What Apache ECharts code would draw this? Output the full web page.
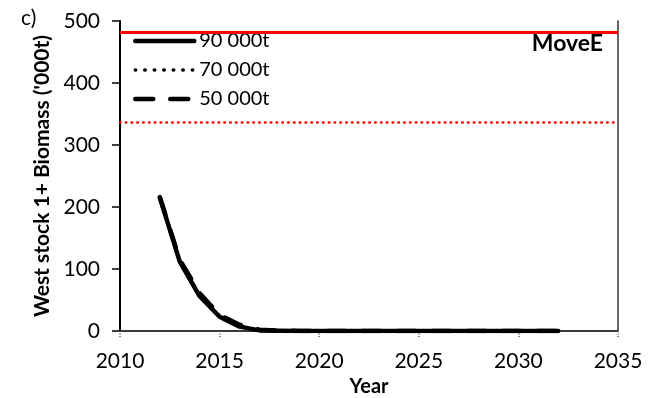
<!DOCTYPE html>
<html>
<head>
<meta charset="utf-8">
<script src="https://cdn.jsdelivr.net/npm/echarts@6/dist/echarts.min.js"></script>
<style>
html,body{margin:0;padding:0;background:#fff;}
#c{width:662px;height:398px;}
</style>
</head>
<body>
<div id="c"></div>
<script>
const years = [2012,2013,2014,2015,2016,2017,2018,2019,2020,2021,2022,2023,2024,2025,2026,2027,2028,2029,2030,2031,2032];
const catch90 = [215,112,56,23,7,1,0.3,0.1,0,0,0,0,0,0,0,0,0,0,0,0,0];
const catch70 = [215,113,58,24,8,1.5,0.4,0.1,0,0,0,0,0,0,0,0,0,0,0,0,0];
const catch50 = [216,115,61,26,10,2,0.6,0.2,0.1,0,0,0,0,0,0,0,0,0,0,0,0];
const seriesNames = ['90 000t','70 000t','50 000t'];
const refSolid = 482;
const refDotted = 337;
const xTicks = [2010,2015,2020,2025,2030,2035];
const yTicks = [0,100,200,300,400,500];
const panelLabel = 'c)';
const scenarioLabel = 'MoveE';
const yTitle = "West stock 1+ Biomass ('000t)";
const xTitle = 'Year';

const FONT = 'Lato';
const pair = (v) => years.map((y, i) => [y, v[i]]);

const styles = [
  {color: '#000', width: 4.5, type: 'solid', cap: 'round', join: 'round'},
  {color: '#000', width: 3.5, type: [0.5, 9], cap: 'round', join: 'round'},
  {color: '#000', width: 4.5, type: [18, 17], cap: 'round', join: 'round'}
];

const chart = echarts.init(document.getElementById('c'), null, {renderer: 'canvas'});
chart.setOption({
  animation: false,
  backgroundColor: '#fff',
  textStyle: {fontFamily: FONT},
  grid: {left: 120, right: 44, top: 21, bottom: 67, containLabel: false, outerBoundsMode: 'none'},
  legend: {
    data: seriesNames.map((n, i) => ({name: n, lineStyle: styles[i]})),
    orient: 'vertical',
    left: 128,
    top: 31,
    itemWidth: 59,
    itemHeight: 19,
    itemGap: 9,
    padding: [0, 5],
    itemStyle: {color: 'rgba(0,0,0,0)', borderWidth: 0, opacity: 0},
    textStyle: {fontFamily: FONT, fontSize: 20, color: '#000'},
    selectedMode: false
  },
  xAxis: [{
    type: 'value',
    min: xTicks[0], max: xTicks[xTicks.length - 1], interval: 5,
    name: xTitle,
    nameLocation: 'middle',
    nameGap: 42,
    nameTextStyle: {fontFamily: FONT, fontSize: 20, fontWeight: 'bold', color: '#000'},
    axisLine: {show: true, onZero: false, lineStyle: {color: '#555', width: 2, type: [1, 1]}},
    axisTick: {show: true, inside: false, length: 7, lineStyle: {color: '#555', width: 1.5, type: [1, 1.5]}},
    axisLabel: {fontFamily: FONT, fontSize: 21, color: '#000', margin: 20, formatter: (v) => String(v)},
    splitLine: {show: false}
  }, {
    type: 'value', position: 'top',
    min: xTicks[0], max: xTicks[xTicks.length - 1], interval: 5,
    axisLine: {show: true, lineStyle: {color: '#333', width: 1.5}},
    axisTick: {show: false}, axisLabel: {show: false}, splitLine: {show: false}
  }],
  yAxis: [{
    type: 'value',
    min: yTicks[0], max: yTicks[yTicks.length - 1], interval: 100,
    name: yTitle,
    nameLocation: 'middle',
    nameGap: 63,
    nameRotate: 90,
    nameTextStyle: {fontFamily: FONT, fontSize: 21, fontWeight: 'bold', color: '#000'},
    axisLine: {show: true, onZero: false, lineStyle: {color: '#000', width: 2}},
    axisTick: {show: true, inside: false, length: 8, lineStyle: {color: '#000', width: 1.5}},
    axisLabel: {fontFamily: FONT, fontSize: 21, color: '#000', margin: 20},
    splitLine: {show: false}
  }, {
    type: 'value', position: 'right',
    min: yTicks[0], max: yTicks[yTicks.length - 1], interval: 100,
    axisLine: {show: true, lineStyle: {color: '#333', width: 1.5}},
    axisTick: {show: false}, axisLabel: {show: false}, splitLine: {show: false}
  }],
  series: [
    {
      name: seriesNames[0], type: 'line', data: pair(catch90), showSymbol: false, symbol: 'none',
      lineStyle: styles[0],
      itemStyle: {color: '#000'}, z: 3,
      markLine: {
        silent: true, symbol: 'none', label: {show: false},
        data: [
          {yAxis: refSolid, lineStyle: {color: '#ff0000', width: 3, type: 'solid'}},
          {yAxis: refDotted, lineStyle: {color: '#ff0000', width: 2.5, type: [0.5, 5.3], cap: 'round'}}
        ]
      }
    },
    {
      name: seriesNames[1], type: 'line', data: pair(catch70), showSymbol: false, symbol: 'none',
      lineStyle: styles[1],
      itemStyle: {color: '#000'}, z: 4
    },
    {
      name: seriesNames[2], type: 'line', data: pair(catch50), showSymbol: false, symbol: 'none',
      lineStyle: styles[2],
      itemStyle: {color: '#000'}, z: 5
    }
  ],
  graphic: [
    {type: 'text', left: 21, top: 8, style: {text: panelLabel, font: '21px ' + FONT, fill: '#000'}},
    {type: 'text', right: 59, top: 32, style: {text: scenarioLabel, font: 'bold 23px ' + FONT, fill: '#000'}}
  ]
});
</script>
</body>
</html>
